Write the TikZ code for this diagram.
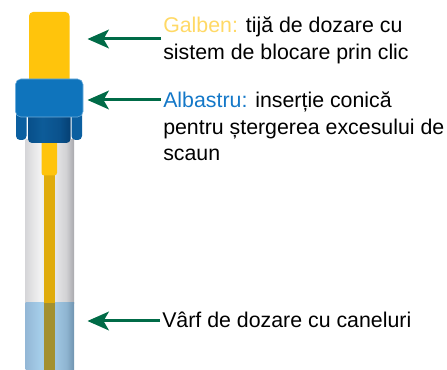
\documentclass[tikz,border=0pt]{standalone}
\usepackage{fontspec}
\setmainfont{Liberation Sans}
\usetikzlibrary{arrows.meta}
\definecolor{arrowgreen}{HTML}{006B47}
\definecolor{rodyellow}{HTML}{FFC40C}
\definecolor{stemyellow}{HTML}{E0AC0C}
\definecolor{stemband}{HTML}{A39030}
\definecolor{capblue}{HTML}{0F74BC}
\definecolor{capedge}{HTML}{6FAEDC}
\definecolor{tabblue}{HTML}{0B5FA0}
\definecolor{labelyellow}{HTML}{FFD966}
\definecolor{labelblue}{HTML}{1478C8}
\pgfdeclarehorizontalshading{tubeglass}{100bp}{
 rgb(0bp)=(0.84,0.84,0.85);
 rgb(25bp)=(0.84,0.84,0.85);
 rgb(40bp)=(0.95,0.95,0.95);
 rgb(55bp)=(0.91,0.91,0.91);
 rgb(67bp)=(0.82,0.82,0.83);
 rgb(75bp)=(0.66,0.66,0.68);
 rgb(100bp)=(0.66,0.66,0.68)}
\pgfdeclarehorizontalshading{tubeband}{100bp}{
 rgb(0bp)=(0.58,0.72,0.84);
 rgb(25bp)=(0.58,0.72,0.84);
 rgb(41bp)=(0.65,0.81,0.92);
 rgb(55bp)=(0.63,0.78,0.89);
 rgb(67bp)=(0.56,0.71,0.82);
 rgb(75bp)=(0.44,0.58,0.69);
 rgb(100bp)=(0.44,0.58,0.69)}
\pgfdeclarehorizontalshading{collarblue}{100bp}{
 rgb(0bp)=(0.03,0.31,0.54);
 rgb(25bp)=(0.03,0.31,0.54);
 rgb(42bp)=(0.05,0.36,0.60);
 rgb(62bp)=(0.04,0.32,0.55);
 rgb(75bp)=(0.02,0.25,0.45);
 rgb(100bp)=(0.02,0.25,0.45)}
\tikzset{
  pointer/.style={draw=arrowgreen,line width=2.25pt,-{Stealth[length=16pt,width=14pt,inset=4pt]}},
  caption/.style={anchor=north west,inner sep=0pt,align=left,font=\fontsize{16pt}{19.7pt}\selectfont},
  tab/.style={fill=tabblue,rounded corners=3pt}
}
\begin{document}
\begin{tikzpicture}[x=0.75pt,y=-0.75pt]
\useasboundingbox (0,0) rectangle (447,370);
% tube
\shade[shading=tubeglass] (25.5,140) rectangle (74,304);
\shade[shading=tubeband] (25.5,303) rectangle (74,370);
\fill[stemyellow] (43.5,170) rectangle (55,303);
\fill[stemband] (43.5,303) rectangle (55,370);
\fill[rodyellow,rounded corners=2pt] (41.5,140) rectangle (57,175.5);
% rod
\fill[rodyellow,rounded corners=3pt] (29,12) rectangle (69.5,90);
% collar
\fill[tab] (16,105) rectangle (26.5,140);
\fill[tab] (71.5,105) rectangle (82,140);
\shade[shading=collarblue,rounded corners=3pt] (28,105) rectangle (70.5,143);
% cap
\filldraw[fill=capblue,draw=capedge,line width=0.4pt,rounded corners=4pt] (15.5,79) rectangle (83,117);
% labels
\node[caption] (galben) at (163,17) {\textcolor{labelyellow}{Galben:} tijă de dozare cu\\sistem de blocare prin clic};
\node[caption] (albastru) at (163,92) {\textcolor{labelblue}{Albastru:} inserție conică\\pentru ștergerea excesului de\\scaun};
\node[caption] (varf) at (162,312) {Vârf de dozare cu caneluri};
% pointers
\coordinate (galbentail) at (161,39);
\coordinate (galbentip) at (87.5,39);
\coordinate (albastrutail) at (161,100);
\coordinate (albastrutip) at (87.5,100);
\coordinate (varftail) at (160,321);
\coordinate (varftip) at (87.5,321);
\draw[pointer] (galbentail) -- (galbentip);
\draw[pointer] (albastrutail) -- (albastrutip);
\draw[pointer] (varftail) -- (varftip);
\end{tikzpicture}
\end{document}
